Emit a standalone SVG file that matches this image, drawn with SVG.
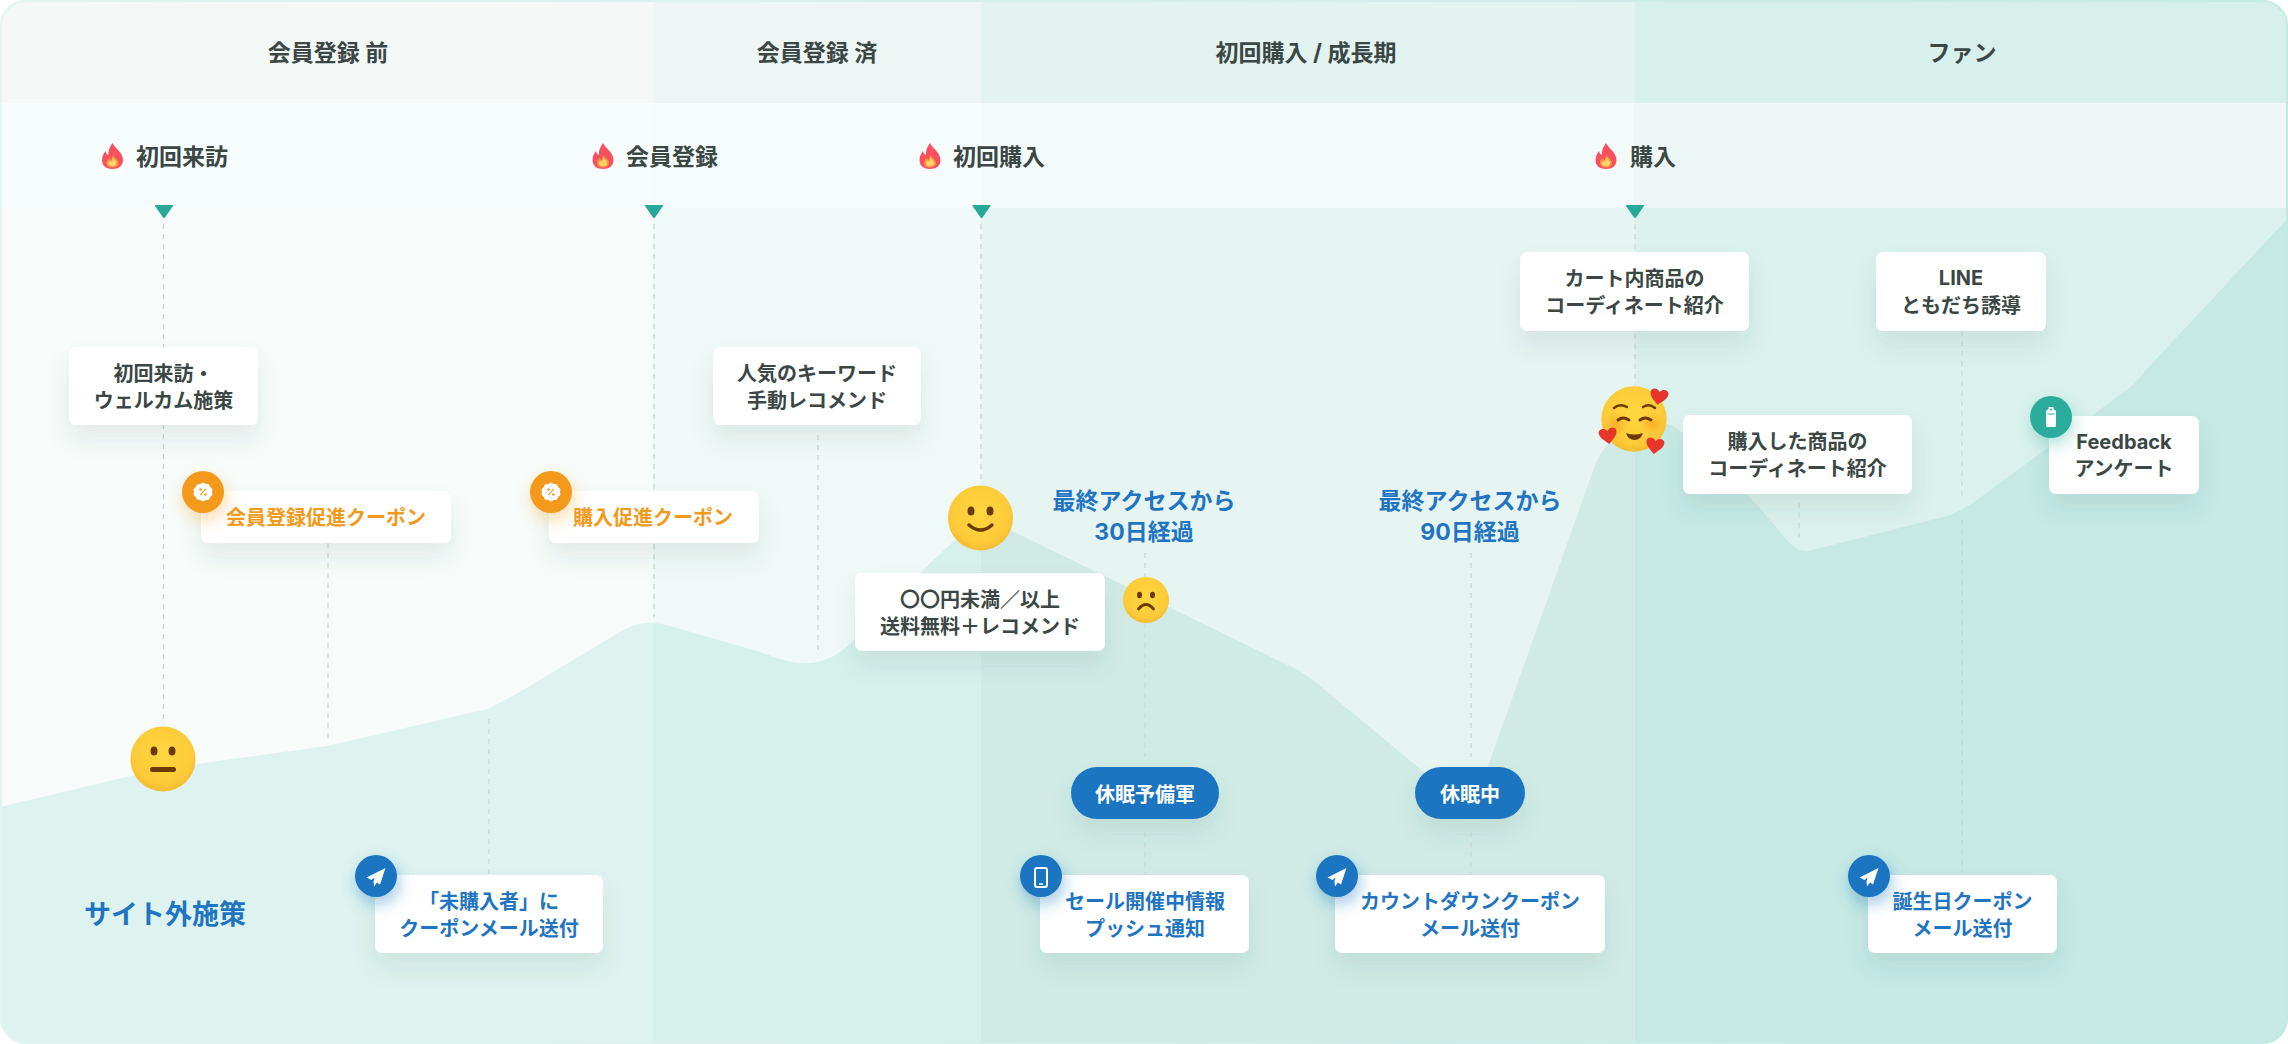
<svg xmlns="http://www.w3.org/2000/svg" xmlns:xlink="http://www.w3.org/1999/xlink" width="2288" height="1044" viewBox="0 0 2288 1044">
<style>
text{font-family:"Inter","Noto Sans CJK JP",sans-serif;font-weight:700;fill:#3a4745;text-anchor:middle}
.h{font-size:23px}
.m{font-size:23px;text-anchor:start}
.c{font-size:20px}
.o{fill:#f39a1c}
.b{fill:#1f75c1}
.w{fill:#fff}
.l{font-size:23px;fill:#1f75c1}
.card{fill:#fff;filter:url(#cs)}
.pill{fill:#1f75c1;filter:url(#cs)}
.dash{stroke:#ccd5d4;stroke-width:1.2;stroke-dasharray:5 5;fill:none}
.eye{fill:#6b3a05}
.mouth{fill:none;stroke:#6b3a05;stroke-linecap:round}
</style>
<defs>
<clipPath id="frame"><rect x="0" y="0" width="2288" height="1044" rx="26"/></clipPath>
<clipPath id="area"><path d="M0,807 L160,769 L320,747 Q328,746 336,744 L487,709 Q500,703 523,690 L625,629 Q645,619 670,626 L760,652 Q785,662 799,663 Q822,665 840,652 Q850,645 858,636 L920,573 L960,535 Q985,512 1012,531 L1298,670 Q1312,678 1325,690 L1424,772 L1465,806 Q1472,814 1476,800 L1594,468 Q1604,442 1625,430 Q1650,420 1672,425 L1692,440 L1750,497 L1787,540 Q1796,552 1808,551 L1951,515 Q1961,510 1970,505 L2124,392 Q2136,384 2146,370 L2288,218 L2288,1044 L0,1044 Z"/></clipPath>
<linearGradient id="bd" x1="0" x2="1" y1="0" y2="0"><stop offset="0" stop-color="#e2f5f1"/><stop offset="1" stop-color="#c4e9e3"/></linearGradient>
<radialGradient id="face" cx=".5" cy=".42" r=".6"><stop offset="0" stop-color="#ffd63f"/><stop offset=".75" stop-color="#fdcb39"/><stop offset="1" stop-color="#f4b92f"/></radialGradient>
<radialGradient id="blush"><stop offset="0" stop-color="#f29a1e" stop-opacity=".55"/><stop offset="1" stop-color="#f29a1e" stop-opacity="0"/></radialGradient>
<filter id="cs" x="-30%" y="-30%" width="160%" height="200%"><feDropShadow dx="0" dy="14" stdDeviation="11" flood-color="#2b5d55" flood-opacity=".1"/></filter>
<filter id="gb" x="-60%" y="-60%" width="240%" height="240%"><feDropShadow dx="2" dy="7" stdDeviation="8" flood-color="#1f75c1" flood-opacity=".4"/></filter>
<filter id="go" x="-60%" y="-60%" width="240%" height="240%"><feDropShadow dx="2" dy="7" stdDeviation="8" flood-color="#f39a1c" flood-opacity=".35"/></filter>
<filter id="gt" x="-60%" y="-60%" width="240%" height="240%"><feDropShadow dx="2" dy="7" stdDeviation="8" flood-color="#29ad9c" flood-opacity=".35"/></filter>
<g id="flame"><path d="M0,-13 C2,-8 10.500,-4 10.500,4 C10.500,10 6,13 0,13 C-6,13 -10.500,10 -10.500,4 C-10.500,0 -8.500,-3 -7,-5 C-6.500,-2.500 -5.500,-1.500 -4,-1 C-4.500,-6 -2,-10 0,-13 Z" fill="#f9505f"/><path d="M0.500,-1 C2,2 6,3.500 6,7 C6,10 3,11.500 0,11.500 C-3,11.500 -6,10 -6,7 C-6,4.500 -4.500,3 -3.500,2 C-2.500,3.500 -1.500,4 -1,3.500 C-1,2.500 -0.500,0.500 0.500,-1 Z" fill="#ff9440"/><path d="M0.500,1.500 C1.500,3.500 4,4.500 4,7 C4,9.200 2,10.300 0,10.300 C-2,10.300 -4,9.200 -4,7 C-4,6 -3.200,5.300 -2.600,4.800 C-1.500,6 -0.500,5.500 -0.400,5 C-0.400,3.800 0,2.500 0.500,1.500 Z" fill="#ffd56b"/></g>
<path id="tri" d="M-8.500,0 L8.500,0 Q9.500,0 9,1 L1,12.500 Q0,13.800 -1,12.500 L-9,1 Q-9.500,0 -8.500,0 Z" fill="#27a999"/>
<g id="plane"><path d="M9.500,-9 L-9.500,0.500 L-4.500,3 L-1.500,0.500 L-2.500,4.500 L-2,9.500 L1,5.500 L4,7.500 Z" fill="#fff"/></g>
<g id="heart"><path d="M0,9 C-4,5 -9,2 -9,-3 C-9,-7 -3,-8.500 0,-4 C3,-8.500 9,-7 9,-3 C9,2 4,5 0,9 Z" fill="#e6352b"/></g>
<g id="badge"><g transform="scale(.9)"><path d="M0,-10.500 L3,-9 L6.500,-8.500 L8,-5.500 L10.500,-3 L10,0 L10.500,3 L8,5.500 L6.500,8.500 L3,9 L0,10.500 L-3,9 L-6.500,8.500 L-8,5.500 L-10.500,3 L-10,0 L-10.500,-3 L-8,-5.500 L-6.500,-8.500 L-3,-9 Z" fill="#fff"/><circle cx="-2.700" cy="-2.700" r="1.400" fill="#f39a1c"/><circle cx="2.700" cy="2.700" r="1.400" fill="#f39a1c"/><path d="M3,-3.500 L-3,3.500" stroke="#f39a1c" stroke-width="1.300"/></g></g>
</defs>

<g id="background" clip-path="url(#frame)">
<rect x="0" y="0" width="653" height="1044" fill="#f7fbfa"/>
<rect x="653" y="0" width="328" height="1044" fill="#eff9f7"/>
<rect x="981" y="0" width="653.500" height="1044" fill="#e6f4f2"/>
<rect x="1634.500" y="0" width="653.500" height="1044" fill="#dbf1ed"/>
<g clip-path="url(#area)">
<rect x="0" y="0" width="653" height="1044" fill="#def3ef"/>
<rect x="653" y="0" width="328" height="1044" fill="#d6f0ec"/>
<rect x="981" y="0" width="653.500" height="1044" fill="#d0ebe6"/>
<rect x="1634.500" y="0" width="653.500" height="1044" fill="#c6e9e4"/>
</g>
<rect x="0" y="0" width="653" height="103" fill="#f4f9f8"/>
<rect x="653" y="0" width="328" height="103" fill="#edf6f5"/>
<rect x="981" y="0" width="653.500" height="103" fill="#e3f3f0"/>
<rect x="1634.500" y="0" width="653.500" height="103" fill="#d8f0ec"/>
<rect x="0" y="103" width="653" height="105" fill="#f7fcfc"/>
<rect x="653" y="103" width="328" height="105" fill="#f6fcfb"/>
<rect x="981" y="103" width="653.500" height="105" fill="#f2fbf9"/>
<rect x="1634.500" y="103" width="653.500" height="105" fill="#edf8f6"/>
</g>
<rect id="frame-border" x="1" y="1" width="2286" height="1042" rx="25" fill="none" stroke="url(#bd)" stroke-width="2"/>

<g id="connectors">
<path class="dash" d="M163.500,224V725"/>
<path class="dash" d="M328,543V740"/>
<path class="dash" d="M654,224V617"/>
<path class="dash" d="M489,719V875"/>
<path class="dash" d="M818,435V651"/>
<path class="dash" d="M981,224V483"/>
<path class="dash" d="M1145,553V757"/>
<path class="dash" d="M1145,832V875"/>
<path class="dash" d="M1471,553V757"/>
<path class="dash" d="M1471,832V875"/>
<path class="dash" d="M1635,224V385"/>
<path class="dash" d="M1799,503V537"/>
<path class="dash" d="M1962,331V500"/>
<path class="dash" d="M1962,520V872"/>
</g>

<g id="phase-labels">
<text class="h" x="328" y="61">会員登録 前</text>
<text class="h" x="817" y="61">会員登録 済</text>
<text class="h" x="1306" y="61">初回購入 / 成長期</text>
<text class="h" x="1962" y="61">ファン</text>
</g>

<g id="milestone-shokai"><use href="#flame" x="112.500" y="156"/><text class="m" x="136" y="165">初回来訪</text><use href="#tri" x="164" y="205"/></g>
<g id="milestone-touroku"><use href="#flame" x="603" y="156"/><text class="m" x="626" y="165">会員登録</text><use href="#tri" x="654" y="205"/></g>
<g id="milestone-shokai-kounyu"><use href="#flame" x="930" y="156"/><text class="m" x="953" y="165">初回購入</text><use href="#tri" x="981.500" y="205"/></g>
<g id="milestone-kounyu"><use href="#flame" x="1606" y="156"/><text class="m" x="1630" y="165">購入</text><use href="#tri" x="1635" y="205"/></g>

<g id="card-welcome"><rect class="card" x="69" y="347" width="189" height="78" rx="7"/><text class="c" x="163.500" y="381">初回来訪・</text><text class="c" x="163.500" y="408">ウェルカム施策</text></g>
<g id="card-coupon-member"><rect class="card" x="201" y="491" width="250" height="52" rx="7"/><text class="c o" x="326" y="525">会員登録促進クーポン</text><circle cx="203" cy="492" r="21" fill="#f39a1c" filter="url(#go)"/><use href="#badge" x="203" y="492"/></g>
<g id="card-coupon-buy"><rect class="card" x="549" y="491" width="210" height="52" rx="7"/><text class="c o" x="653" y="525">購入促進クーポン</text><circle cx="551" cy="492" r="21" fill="#f39a1c" filter="url(#go)"/><use href="#badge" x="551" y="492"/></g>
<g id="card-keyword"><rect class="card" x="713" y="347" width="208" height="78" rx="7"/><text class="c" x="817" y="381">人気のキーワード</text><text class="c" x="817" y="408">手動レコメンド</text></g>
<g id="card-shipping"><rect class="card" x="855" y="573" width="250" height="78" rx="7"/><text class="c" x="980" y="607">〇〇円未満／以上</text><text class="c" x="980" y="634">送料無料＋レコメンド</text></g>
<g id="card-cart"><rect class="card" x="1520" y="252" width="229" height="79" rx="7"/><text class="c" x="1634.500" y="286">カート内商品の</text><text class="c" x="1634.500" y="313">コーディネート紹介</text></g>
<g id="card-line"><rect class="card" x="1876" y="252" width="170" height="79" rx="7"/><text class="c" x="1961" y="285">LINE</text><text class="c" x="1961" y="313">ともだち誘導</text></g>
<g id="card-bought"><rect class="card" x="1683" y="415" width="229" height="79" rx="7"/><text class="c" x="1797.500" y="449">購入した商品の</text><text class="c" x="1797.500" y="476">コーディネート紹介</text></g>
<g id="card-feedback"><rect class="card" x="2049" y="416" width="150" height="78" rx="7"/><text class="c" x="2124" y="449">Feedback</text><text class="c" x="2124" y="476">アンケート</text><circle cx="2051" cy="417" r="21" fill="#29ad9c" filter="url(#gt)"/><path d="M2048.500,407 h5 v2 l2.500,2 v14.500 q0,1.500 -1.500,1.500 h-7 q-1.500,0 -1.500,-1.500 v-14.500 l2.500,-2 Z" fill="#fff"/><path d="M2047.500,414 h7" stroke="#29ad9c" stroke-width="1"/><circle cx="2051" cy="409.500" r="1" fill="#29ad9c"/></g>

<g id="note-30"><text class="l" x="1144" y="509">最終アクセスから</text><text class="l" x="1144" y="540">30日経過</text></g>
<g id="note-90"><text class="l" x="1470" y="509">最終アクセスから</text><text class="l" x="1470" y="540">90日経過</text></g>
<g id="label-offsite"><text class="b" style="font-size:27px" x="165" y="924">サイト外施策</text></g>

<g id="pill-yobigun"><rect class="pill" x="1071" y="767" width="148" height="52" rx="26"/><text class="c w" x="1145" y="802">休眠予備軍</text></g>
<g id="pill-kyumin"><rect class="pill" x="1415" y="767" width="110" height="52" rx="26"/><text class="c w" x="1470" y="802">休眠中</text></g>

<g id="card-mail"><rect class="card" x="375" y="875" width="228" height="78" rx="7"/><text class="c b" x="489" y="909">「未購入者」に</text><text class="c b" x="489" y="936">クーポンメール送付</text><circle cx="376" cy="876" r="21" fill="#1f75c1" filter="url(#gb)"/><use href="#plane" x="376" y="877"/></g>
<g id="card-push"><rect class="card" x="1040" y="875" width="209" height="78" rx="7"/><text class="c b" x="1145" y="909">セール開催中情報</text><text class="c b" x="1145" y="936">プッシュ通知</text><circle cx="1041" cy="876" r="21" fill="#1f75c1" filter="url(#gb)"/><rect x="1035" y="868" width="12" height="19" rx="2" fill="none" stroke="#fff" stroke-width="2"/><path d="M1039,884h4" stroke="#fff" stroke-width="1.500"/></g>
<g id="card-countdown"><rect class="card" x="1335" y="875" width="270" height="78" rx="7"/><text class="c b" x="1470" y="909">カウントダウンクーポン</text><text class="c b" x="1470" y="936">メール送付</text><circle cx="1337" cy="876" r="21" fill="#1f75c1" filter="url(#gb)"/><use href="#plane" x="1337" y="877"/></g>
<g id="card-birthday"><rect class="card" x="1868" y="875" width="189" height="78" rx="7"/><text class="c b" x="1962.500" y="909">誕生日クーポン</text><text class="c b" x="1962.500" y="936">メール送付</text><circle cx="1869" cy="876" r="21" fill="#1f75c1" filter="url(#gb)"/><use href="#plane" x="1869" y="877"/></g>

<g id="emoji-neutral"><circle cx="163" cy="759" r="32.500" fill="url(#face)"/><ellipse class="eye" cx="154" cy="751" rx="3.500" ry="4.500"/><ellipse class="eye" cx="172" cy="751" rx="3.500" ry="4.500"/><rect class="eye" x="150" y="767" width="26" height="5" rx="2.500"/></g>
<g id="emoji-smile"><circle cx="980.500" cy="518" r="32.500" fill="url(#face)"/><ellipse class="eye" cx="971" cy="511" rx="3.500" ry="4.500"/><ellipse class="eye" cx="990" cy="511" rx="3.500" ry="4.500"/><path class="mouth" stroke-width="3.500" d="M969,525 Q980.500,535 992,525"/></g>
<g id="emoji-sad"><circle cx="1146" cy="600" r="23" fill="url(#face)"/><ellipse class="eye" cx="1139.500" cy="595" rx="2.500" ry="3.300"/><ellipse class="eye" cx="1152.500" cy="595" rx="2.500" ry="3.300"/><path class="mouth" stroke-width="2.800" d="M1138.500,609 Q1146,600 1153.500,609"/></g>
<g id="emoji-love"><circle cx="1634" cy="419" r="32.700" fill="url(#face)"/><ellipse cx="1616" cy="424" rx="13" ry="11" fill="url(#blush)"/><ellipse cx="1652" cy="424" rx="13" ry="11" fill="url(#blush)"/><path class="mouth" stroke-width="2.500" d="M1614,408 Q1620,403 1627,407"/><path class="mouth" stroke-width="2.500" d="M1643,407 Q1649,403 1655,408"/><path class="mouth" stroke-width="3" d="M1618,420 Q1623,416 1629,420"/><path class="mouth" stroke-width="3" d="M1640,420 Q1645,416 1651,420"/><path d="M1626,433 Q1634,436 1643,433 Q1641,440 1634.500,440 Q1628,440 1626,433 Z" fill="#6b3a05"/><use href="#heart" transform="translate(1659,396) rotate(10)"/><use href="#heart" transform="translate(1608,435) rotate(-8)"/><use href="#heart" transform="translate(1655,445) rotate(8)"/></g>
</svg>
